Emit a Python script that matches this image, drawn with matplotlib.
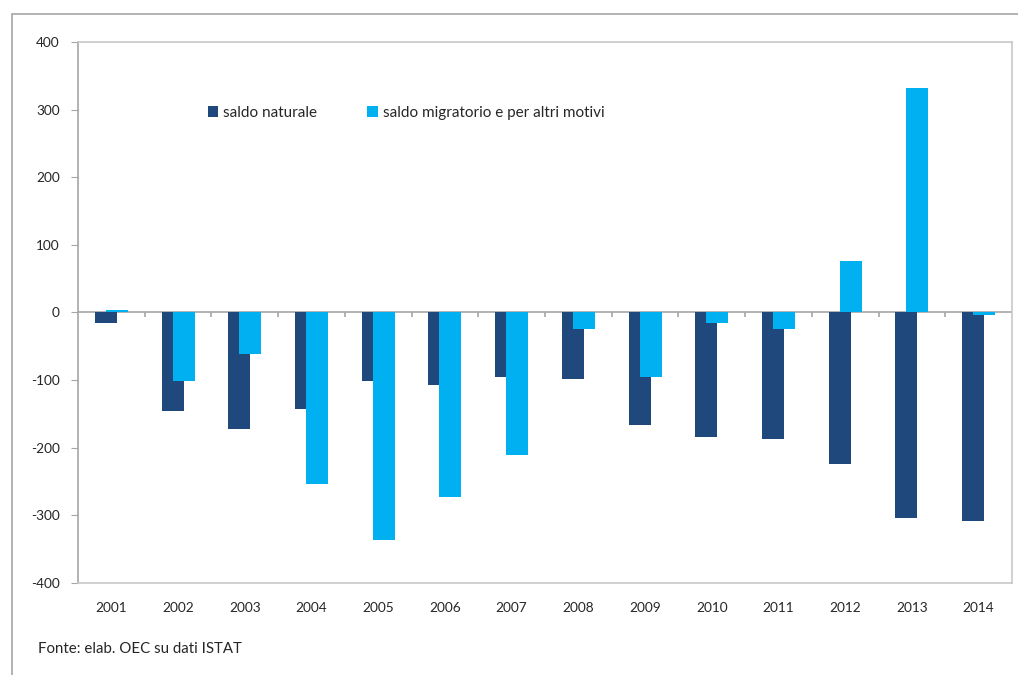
import numpy as np
import matplotlib.pyplot as plt
from matplotlib.patches import Rectangle

# saldo naturale / saldo migratorio, migliaia
anni = ['2001', '2002', '2003', '2004', '2005', '2006', '2007',
        '2008', '2009', '2010', '2011', '2012', '2013', '2014']
saldo_naturale = [-16, -145, -172, -142, -101, -107, -96,
                  -98, -167, -184, -187, -224, -304, -308]
saldo_migratorio = [4, -101, -62, -253, -336, -273, -210,
                    -25, -95, -15, -25, 76, 332, -4]
yticks = [-400, -300, -200, -100, 0, 100, 200, 300, 400]

plt.rcParams['font.family'] = ['Lato', 'DejaVu Sans']
txt = '#262626'
grigio = '#a6a6a6'

fig = plt.figure(figsize=(10.18, 6.75), dpi=100)
ax = fig.add_axes([0.0766, 0.1363, 0.9175, 0.8015])

x = np.arange(len(anni))
w = 0.33
ax.bar(x - 0.0825, saldo_naturale, w, color='#1f497d', label='saldo naturale', zorder=2)
ax.bar(x + 0.0825, saldo_migratorio, w, color='#00b0f0',
       label='saldo migratorio e per altri motivi', zorder=3)

ax.set_xlim(-0.5, len(anni) - 0.5)
ax.set_ylim(-400, 400)
ax.set_yticks(yticks)
ax.set_yticklabels([str(v) for v in yticks])
ax.set_xticks(x)
ax.set_xticklabels(anni)

for s in ax.spines.values():
    s.set_color('#c8c8c8')
    s.set_linewidth(1.2)
ax.spines['left'].set_color(grigio)

ax.tick_params(axis='y', length=5, color=grigio, labelsize=9.8, labelcolor=txt, pad=8)
ax.tick_params(axis='x', length=0, labelsize=9.8, labelcolor=txt, pad=14)

# asse dello zero con tacche tra le categorie
ax.axhline(0, color=grigio, lw=1.2, zorder=1)
ax.vlines(x[:-1] + 0.5, -7, 0, color=grigio, lw=1.2, zorder=1)

ax.legend(loc='upper left', bbox_to_anchor=(0.124, 0.908), ncol=2, frameon=False,
          fontsize=11, handlelength=0.7, handleheight=0.7, handletextpad=0.3,
          columnspacing=3.3, labelcolor=txt)

fig.text(38 / 1018, 1 - 649 / 675, 'Fonte: elab. OEC su dati ISTAT',
         fontsize=10.8, color=txt, va='center')

# cornice esterna
fig.patches.append(Rectangle((12 / 1018, -0.1), 1.2, 1 - 14 / 675 + 0.1,
                             transform=fig.transFigure, fill=False,
                             edgecolor=grigio, lw=1.2))

fig.savefig('out.png', dpi=100)
